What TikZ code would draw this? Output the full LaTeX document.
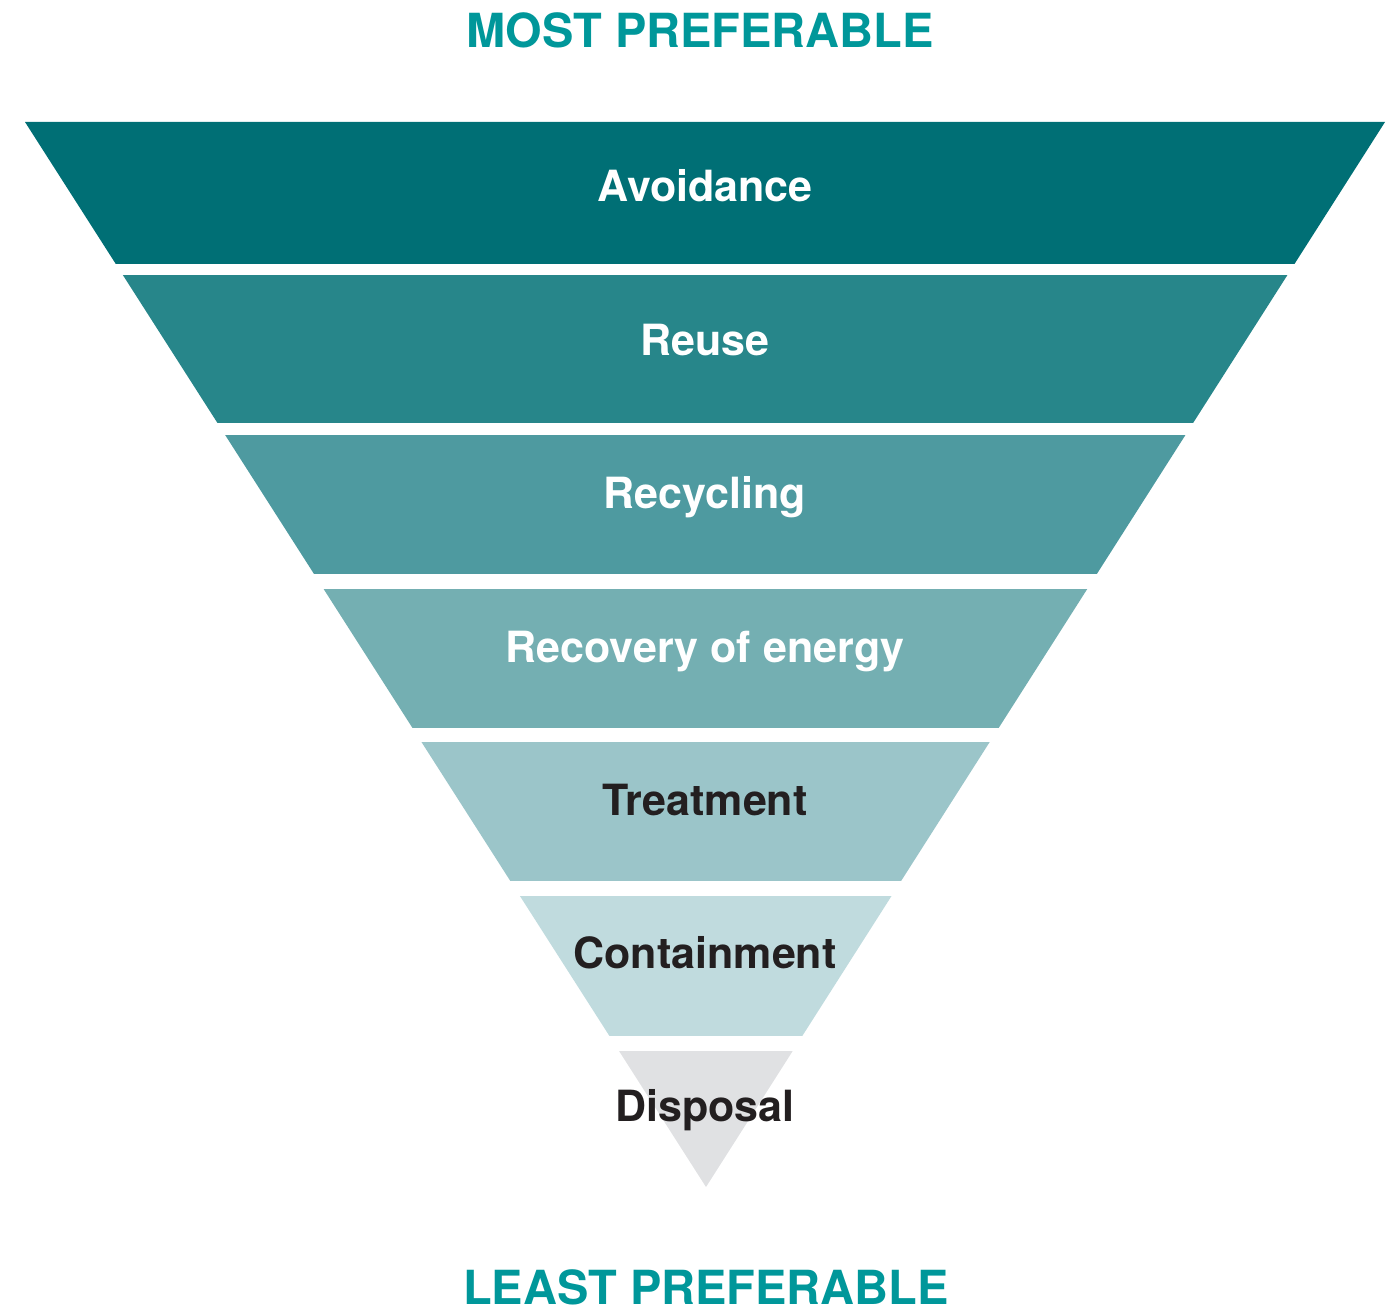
\documentclass[tikz,border=0pt]{standalone}
\usepackage{fontspec}
\setmainfont{TeX Gyre Heros}
\definecolor{titleteal}{HTML}{00979A}
\definecolor{cA}{HTML}{006F75}
\definecolor{cB}{HTML}{27868A}
\definecolor{cC}{HTML}{4E9AA0}
\definecolor{cD}{HTML}{74AFB2}
\definecolor{cE}{HTML}{9BC5C9}
\definecolor{cF}{HTML}{C0DBDE}
\definecolor{cG}{HTML}{E0E1E3}
\definecolor{darktext}{HTML}{231F20}
\tikzset{
  title/.style={anchor=base, inner sep=0pt, text=titleteal, font=\fontsize{47}{56}\selectfont\bfseries},
  bandlabel/.style={anchor=base, inner sep=0pt, font=\fontsize{43}{50}\selectfont\bfseries},
  light/.style={bandlabel, text=white},
  dark/.style={bandlabel, text=darktext}
}
\newcommand{\wband}[3]{%
  \begin{scope}
    \clip (0,#1) rectangle (1400,#2);
    \fill[#3] (25,122) -- (1385,122) -- (706,1187) -- cycle;
  \end{scope}}
\begin{document}
\begin{tikzpicture}[x=1pt,y=-1pt]
  \useasboundingbox (0,0) rectangle (1400,1311);
  \wband{122}{263}{cA}
  \wband{275}{422}{cB}
  \wband{435}{573}{cC}
  \wband{589}{727}{cD}
  \wband{742}{880}{cE}
  \wband{896}{1035}{cF}
  \wband{1051}{1187}{cG}
  \node[title] (most) at (700,48) {MOST PREFERABLE};
  \node[title] (least) at (706,1304) {LEAST PREFERABLE};
  \node[light] (avoid) at (705,201) {Avoidance};
  \node[light] (reuse) at (705,355) {Reuse};
  \node[light] (recyc) at (705,508) {Recycling};
  \node[light] (recov) at (705,662) {Recovery of energy};
  \node[dark] (treat) at (705,815) {Treatment};
  \node[dark] (contain) at (705,968) {Containment};
  \node[dark] (dispo) at (705,1121) {Disposal};
\end{tikzpicture}
\end{document}
